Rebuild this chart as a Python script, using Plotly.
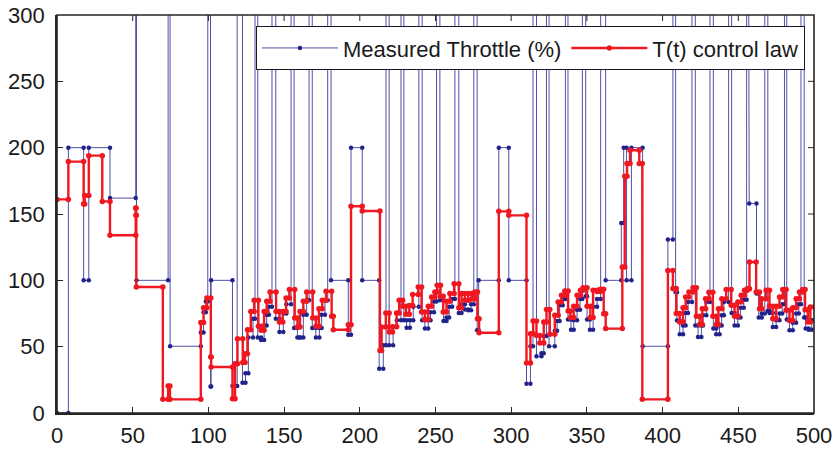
import plotly.graph_objects as go

# ---- data: step change times and values ----
red_t = [0, 7.5, 17.6, 18.3, 21.0, 29.9, 35.0, 52.0, 52.2, 52.4, 69.9, 73.4, 74.6, 95.0, 96.8, 99.0,
         101.6, 101.8, 115.9, 117.6, 119.2, 122.7, 124.2, 125.8, 128.0, 130.2, 133.0, 134.8, 136.8,
         138.5, 140.7, 144.7, 146.9, 149.1, 151.3, 153.5, 157.0, 158.8, 160.5, 162.7, 164.9, 168.9,
         171.0, 173.0, 175.2, 177.7, 181.4, 182.5, 192.4, 194.2, 201.6, 213.3, 214.4, 217.2, 219.4,
         221.6, 224.3, 226.0, 228.3, 230.5, 232.7, 234.9, 238.6, 240.8, 243.0, 245.2, 247.4, 249.6,
         251.1, 253.3, 255.1, 257.3, 259.5, 262.3, 265.4, 267.2, 269.4, 271.6, 274.0, 276.0, 277.7,
         278.8, 291.8, 298.4, 310.1, 312.7, 314.5, 316.7, 318.9, 321.5, 323.3, 325.5, 328.8, 331.0,
         333.2, 335.4, 337.6, 339.1, 341.3, 343.5, 345.7, 347.5, 350.1, 352.3, 354.1, 356.7, 358.9,
         361.1, 362.4, 373.4, 375.0, 376.5, 378.5, 384.6, 386.6, 403.5, 406.8, 409.0, 411.3, 413.5,
         415.2, 417.4, 420.1, 422.3, 424.5, 426.2, 428.4, 430.6, 433.2, 435.4, 436.9, 439.1, 442.0,
         445.3, 447.5, 449.7, 451.9, 454.1, 455.9, 457.4, 461.8, 464.0, 465.5, 468.4, 470.6, 472.8,
         475.0, 477.2, 479.4, 481.6, 483.8, 486.0, 488.2, 490.4, 492.6, 494.1, 495.9, 497.6]
red_v = [161, 189.5, 157.5, 164, 194, 159.5, 134, 154.5, 149, 95, 10.3, 20.4, 10.3, 68.3, 79.4, 86.7,
         42.2, 34.7, 10.8, 37.2, 56, 38, 44.7, 62.8, 76.6, 84.9, 65.3, 62.3, 76.6,
         84.2, 91.2, 76.6, 68.6, 76.6, 86.7, 93, 71.6, 64.8, 76.6, 84.2, 91.2, 71.6,
         65.3, 78.6, 84.9, 91.7, 72.9, 62.8, 66.6, 155.8, 152.3, 47.2, 64.8, 75.3, 61,
         65, 75.4, 85, 80.5, 74.4, 81, 89.4, 95, 76.1, 70.4, 80.4, 87.4, 91.2,
         96.2, 88, 76.1, 84.2, 90, 97.5, 79.4, 90, 85, 90, 86, 91.2, 71.1,
         60.5, 152, 149, 37.7, 59.8, 69.4, 58.5, 52.8, 68.6, 78.1, 59.3, 73.6, 83.7,
         88.7, 92, 76.9, 71.9, 80.4, 88.7, 92.5, 94.5, 80.4, 71.9, 92.5, 91.5, 93.2,
         74.9, 63.6, 110, 178.4, 188, 198, 188, 10.3, 107.5, 93.8, 75, 68.6, 79.4,
         87.4, 91.2, 94.5, 72.9, 66.8, 78.6, 86.2, 91, 72.9, 66.8, 78.6, 86.2, 93,
         81.2, 72.9, 83.7, 88.7, 92.5, 93.7, 113.8, 91.2, 78.6, 86.2, 92.5, 80.4, 71.1,
         80.4, 87.4, 93, 77.4, 69.8, 79.4, 86.2, 91.2, 93, 77.9, 68.6, 79.9]

# measured throttle: 1000 marks saturated spikes (far above the plotted range)
blue_t = [0, 7.5, 17.6, 21.0, 35.0, 52.0, 52.5, 73.4, 74.7, 95.0, 96.8, 98.3, 99.6, 101.4, 101.8,
          115.9, 119.0, 122.5, 124.5, 126.4, 129.5, 130.8, 132.6, 134.8, 136.8, 138.5, 140.0, 142.0,
          144.5, 146.9, 149.5, 151.5, 154.6, 156.6, 158.8, 160.5, 162.7, 164.9, 166.5, 168.6, 171.0,
          173.3, 174.8, 177.0, 178.8, 181.0, 192.4, 194.2, 201.6, 212.8, 215.5, 217.3, 219.4, 222.0,
          224.5, 227.2, 229.1, 230.9, 233.1, 235.3, 239.0, 241.2, 243.0, 245.2, 246.7, 249.0, 250.7,
          252.9, 255.3, 257.3, 259.0, 261.0, 262.8, 265.4, 267.2, 269.4, 271.6, 273.5, 275.3, 277.5,
          278.5, 291.8, 298.4, 310.1, 312.7, 314.4, 316.7, 320.0, 321.5, 323.3, 325.0, 328.8, 330.3,
          332.0, 334.0, 335.8, 337.5, 339.5, 341.3, 343.5, 345.5, 347.0, 349.2, 350.1, 352.0, 354.1,
          356.7, 359.1, 362.4, 372.7, 374.3, 376.2, 379.4, 386.8, 403.5, 406.8, 408.6, 409.5, 411.3,
          413.5, 415.2, 416.8, 419.4, 421.6, 423.4, 425.6, 426.7, 428.9, 431.3, 433.5, 435.4, 437.6,
          439.0, 440.5, 443.6, 445.6, 447.5, 449.7, 451.5, 453.6, 455.5, 457.2, 462.0, 463.5, 465.5,
          467.5, 469.5, 470.6, 472.8, 475.0, 477.2, 479.0, 480.5, 482.0, 483.8, 486.0, 488.2, 490.0,
          491.4, 493.5, 494.5, 496.5, 498.5]
blue_v = [0, 200, 100, 200, 162, 1000, 100, 1000, 50.3, 60.6, 76, 84, 1000, 20, 100,
          20.4, 1000, 22.8, 30, 57, 71, 1000, 57, 55, 66, 74, 80, 1000,
          71, 61, 75, 82, 1000, 64, 57, 57, 74, 85, 1000, 64, 57,
          64, 74, 85, 1000, 100, 59, 200, 100, 33.4, 51, 1000, 51, 65,
          70, 1000, 70, 64.3, 70, 80, 1000, 70, 63.6, 70, 76, 84, 1000,
          85, 69.3, 72, 80, 86, 1000, 75.4, 82, 78, 77.4, 82, 1000, 62.3,
          100, 200, 100, 22.1, 50.3, 1000, 42.7, 45, 58, 1000, 50.3, 62, 69.3,
          81.2, 86, 1000, 70.4, 62.8, 70, 77.9, 86, 1000, 88, 70.4, 62.8, 80,
          86, 1000, 100, 143.2, 200, 100, 200, 50.3, 130.7, 1000, 91, 69.8, 59.3,
          66, 75.4, 83.7, 1000, 66, 57.3, 66, 73.6, 83.7, 1000, 63.6, 59.3, 66,
          73.6, 83.7, 1000, 75.4, 66, 72, 79.4, 85.4, 1000, 158, 90, 71.9, 75,
          1000, 77, 75.4, 64.8, 70, 75, 82, 1000, 70.4, 62.3, 68, 75, 82,
          1000, 71.9, 63.6, 62.8, 70]

x_ticks = [0, 50, 100, 150, 200, 250, 300, 350, 400, 450, 500]
y_ticks = [0, 50, 100, 150, 200, 250, 300]
t_end = 500


def corners(ts, vs, end):
    """Sample-and-hold points: each change time gets the old and the new value."""
    xs, ys = [ts[0]], [vs[0]]
    for i in range(1, len(ts)):
        xs += [ts[i], ts[i]]
        ys += [vs[i - 1], vs[i]]
    xs.append(end)
    ys.append(vs[-1])
    return xs, ys


bx, by = corners(blue_t, blue_v, t_end)
rx, ry = corners(red_t, red_v, t_end)

fig = go.Figure()
fig.add_trace(go.Scatter(
    x=bx, y=by, mode="lines+markers", name="Measured Throttle (%)",
    line=dict(color="rgb(80,80,165)", width=1),
    marker=dict(color="#22228c", size=4.5),
))
fig.add_trace(go.Scatter(
    x=rx, y=ry, mode="lines+markers", name="T(t) control law",
    line=dict(color="#f01820", width=2.4),
    marker=dict(color="#f01820", size=5.5),
))

frame = "#262626"
axis_common = dict(
    showgrid=False, zeroline=False, showline=True, linecolor=frame, linewidth=1.6,
    ticks="inside", ticklen=6, tickcolor=frame, tickwidth=1,
    automargin=False, ticklabeloverflow="allow",
    tickfont=dict(family="Liberation Sans, Arial, sans-serif", size=22, color="#1a1a1a"),
)

plot_w = 837 - 57 - 23
plot_h = 449 - 15 - 36
tick_len = 6

# box frame and the mirrored tick marks on the top and right edges
shapes = [dict(type="rect", xref="paper", yref="paper", x0=0, x1=1, y0=0, y1=1,
               line=dict(color=frame, width=1.6), layer="above")]
for xt in x_ticks[1:-1]:
    shapes.append(dict(type="line", xref="x", yref="paper", x0=xt, x1=xt,
                       y0=1, y1=1 - tick_len / plot_h, line=dict(color=frame, width=1)))
for yt in y_ticks[1:-1]:
    shapes.append(dict(type="line", xref="paper", yref="y", x0=1, x1=1 - tick_len / plot_w,
                       y0=yt, y1=yt, line=dict(color=frame, width=1)))

fig.update_layout(
    width=837, height=449,
    margin=dict(l=57, r=23, t=15, b=36),
    paper_bgcolor="white", plot_bgcolor="white",
    xaxis=dict(range=[0, 500], tickvals=x_ticks, ticklabelstandoff=2, **axis_common),
    yaxis=dict(range=[0, 300], tickvals=y_ticks, ticklabelstandoff=6, **axis_common),
    shapes=shapes,
    legend=dict(
        orientation="h", x=0.988, xanchor="right", y=0.972, yanchor="top",
        bgcolor="white", bordercolor="#1a1a1a", borderwidth=1,
        font=dict(family="Liberation Sans, Arial, sans-serif", size=22, color="#1a1a1a"),
        itemwidth=76, tracegroupgap=0,
    ),
    showlegend=True,
)

fig.write_html("out.html", config={"displayModeBar": False},
               post_script="document.body.style.margin='0px';")
